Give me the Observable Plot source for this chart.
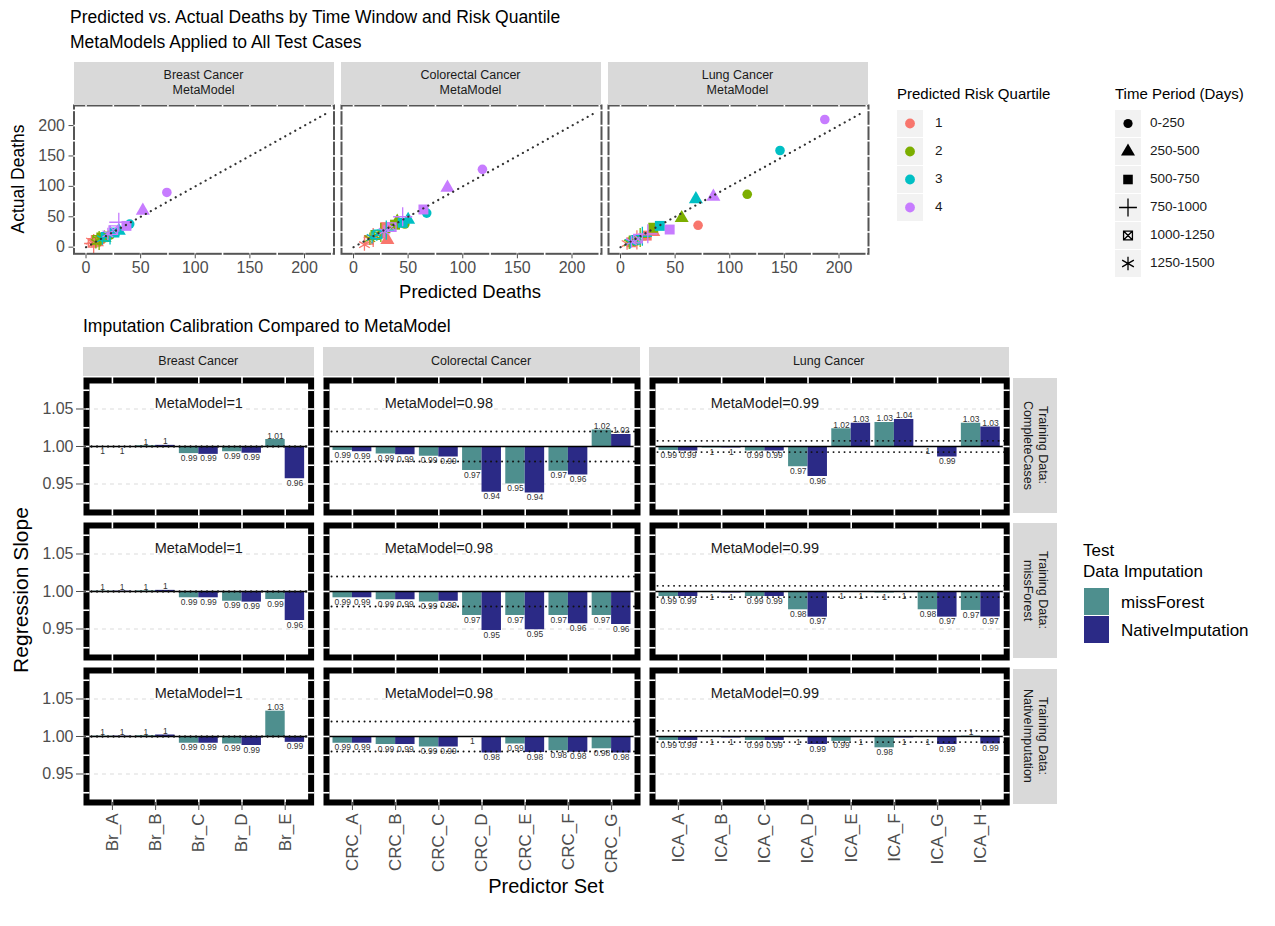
<!DOCTYPE html>
<html><head><meta charset="utf-8">
<script src="https://cdn.jsdelivr.net/npm/d3@7"></script>
<script src="https://cdn.jsdelivr.net/npm/@observablehq/plot@0.6"></script>
<style>
html,body{margin:0;padding:0;background:#fff;}
#root{position:relative;width:1275px;height:926px;overflow:hidden;font-family:"Liberation Sans",Arial,Helvetica,sans-serif;}
#root svg{position:absolute;overflow:visible;}
.t{position:absolute;white-space:nowrap;line-height:1;}
.strip{position:absolute;background:#d9d9d9;color:#1a1a1a;display:flex;align-items:center;justify-content:center;text-align:center;font-size:12.5px;line-height:15.5px;white-space:pre;}
.sw{position:absolute;}
</style></head><body><div id="root"></div>
<script>
// ================= DATA =================
const cancerNames = ["Breast Cancer", "Colorectal Cancer", "Lung Cancer"];
const riskQuartiles = ["1", "2", "3", "4"];
const quartileColors = ["#F8766D", "#7CAE00", "#00BFC4", "#C77CFF"];
const timePeriods = ["0-250", "250-500", "500-750", "750-1000", "1000-1250", "1250-1500"];
const deathTicks = [0, 50, 100, 150, 200];
const identityLine = [0, 220];

// rows = risk quartile 1..4, columns = time period
const breastPredicted = [[14, 10, 9, 7, 6, 5], [22, 17, 14, 12, 10, 9], [40, 30, 26, 22, 18, 15], [74, 52, 37, 30, 25, 20]];
const breastActual    = [[12, 8, 9, 6, 7, 10], [20, 15, 16, 11, 12, 8], [38, 27, 24, 20, 17, 14], [90, 60, 35, 41, 28, 22]];
const crcPredicted    = [[27, 31, 29, 18, 14, 10], [47, 40, 38, 25, 20, 15], [67, 50, 45, 30, 22, 17], [118, 86, 64, 45, 35, 28]];
const crcActual       = [[22, 12, 33, 16, 12, 4], [38, 42, 37, 24, 20, 14], [56, 45, 40, 28, 21, 16], [128, 98, 62, 50, 33, 26]];
const lungPredicted   = [[71, 30, 24, 15, 10, 6], [116, 56, 30, 18, 12, 8], [146, 69, 36, 20, 14, 9], [187, 85, 45, 25, 16, 10]];
const lungActual      = [[36, 25, 19, 12, 8, 6], [87, 48, 32, 16, 11, 7], [159, 79, 35, 18, 12, 8], [210, 83, 29, 22, 14, 9]];

const breastSets = ["Br_A", "Br_B", "Br_C", "Br_D", "Br_E"];
const crcSets = ["CRC_A", "CRC_B", "CRC_C", "CRC_D", "CRC_E", "CRC_F", "CRC_G"];
const lungSets = ["ICA_A", "ICA_B", "ICA_C", "ICA_D", "ICA_E", "ICA_F", "ICA_G", "ICA_H"];
const trainingLabels = ["Training Data:\nCompleteCases", "Training Data:\nmissForest", "Training Data:\nNativeImputation"];
const testImputation = ["missForest", "NativeImputation"];
const imputationColors = ["#4E8F8E", "#2B2A86"];
const metaModelSlope = [1.0, 0.98, 0.9925];
const slopeTicks = [0.95, 1.00, 1.05];

// regression slopes: training data x test imputation
const brCompleteMF = [0.9997, 1.001, 0.9905, 0.993, 1.0093];
const brCompleteNI = [0.9997, 1.0015, 0.9895, 0.991, 0.957];
const brMissForestMF = [1.0005, 1.0008, 0.9916, 0.987, 0.9893];
const brMissForestNI = [1.0005, 1.0015, 0.9916, 0.9858, 0.9613];
const brNativeMF = [1.0005, 1.001, 0.991, 0.990, 1.0338];
const brNativeNI = [1.0005, 1.002, 0.991, 0.988, 0.9922];

const crcCompleteMF = [0.9947, 0.990, 0.987, 0.968, 0.950, 0.967, 1.022];
const crcCompleteNI = [0.993, 0.989, 0.986, 0.939, 0.938, 0.962, 1.016];
const crcMissForestMF = [0.9916, 0.989, 0.986, 0.968, 0.968, 0.968, 0.968];
const crcMissForestNI = [0.9916, 0.989, 0.987, 0.948, 0.949, 0.957, 0.956];
const crcNativeMF = [0.991, 0.9893, 0.986, 0.9996, 0.990, 0.981, 0.9836];
const crcNativeNI = [0.991, 0.9893, 0.986, 0.978, 0.9787, 0.979, 0.978];

const lungCompleteMF = [0.9947, 0.998, 0.994, 0.973, 1.0236, 1.032, 0.999, 1.031];
const lungCompleteNI = [0.994, 0.998, 0.994, 0.960, 1.031, 1.036, 0.986, 1.026];
const lungMissForestMF = [0.9933, 0.9985, 0.9933, 0.9756, 0.9995, 0.998, 0.9756, 0.9747];
const lungMissForestNI = [0.9933, 0.998, 0.9933, 0.9658, 0.9995, 0.9995, 0.9658, 0.966];
const lungNativeMF = [0.9947, 0.9985, 0.9947, 0.9985, 0.9935, 0.9849, 0.9985, 1.0005];
const lungNativeNI = [0.9947, 0.998, 0.9947, 0.9893, 0.9985, 0.998, 0.9893, 0.990];

// ================= HELPERS =================
const FONT = '"Liberation Sans", Arial, Helvetica, sans-serif';
const root = document.getElementById("root");
function txt(s, x, y, o = {}) {
  const d = document.createElement("div");
  d.className = "t";
  d.textContent = s;
  const ax = o.anchor === "middle" ? -50 : o.anchor === "end" ? -100 : 0;
  d.style.left = x + "px"; d.style.top = y + "px";
  d.style.fontSize = (o.size || 14) + "px";
  d.style.color = o.color || "#000";
  d.style.transform = `translate(${ax}%,-50%)` + (o.rotate ? ` rotate(${o.rotate}deg)` : "");
  root.appendChild(d);
  return d;
}
function strip(s, x, y, w, h, vertical) {
  const d = document.createElement("div");
  d.className = "strip";
  d.textContent = s;
  Object.assign(d.style, {left: x + "px", top: y + "px", width: w + "px", height: h + "px"});
  if (vertical) d.style.writingMode = "vertical-rl";
  root.appendChild(d);
}
function place(svg, left, top) {
  svg.style.left = left + "px";
  svg.style.top = top + "px";
  root.appendChild(svg);
}
const fmt = v => String(+v.toFixed(2));
const squareCross = {
  draw(ctx, size) {
    const s = Math.sqrt(size) / 2;
    ctx.moveTo(-s, -s); ctx.lineTo(s, -s); ctx.lineTo(s, s); ctx.lineTo(-s, s); ctx.closePath();
    ctx.moveTo(-s, -s); ctx.lineTo(s, s); ctx.moveTo(s, -s); ctx.lineTo(-s, s);
  }
};
const periodSymbols = ["circle", "triangle", "square", "plus", squareCross, "asterisk"];
const periodD3 = [d3.symbolCircle, d3.symbolTriangle, d3.symbolSquare, d3.symbolPlus, squareCross, d3.symbolAsterisk];
const periodFilled = [true, true, true, false, false, false];
const periodR = [4.8, 5.2, 5.6, 6.2, 4.8, 5.8];
const legendR = [4.6, 5.2, 5.4, 5.8, 5.0, 6.4];

// ================= TOP FIGURE =================
txt("Predicted vs. Actual Deaths by Time Window and Risk Quantile", 70, 18, {size: 17.5});
txt("MetaModels Applied to All Test Cases", 70, 43, {size: 17.5});

const topX = [73.5, 340.5, 607.5], topW = 260, topY = 105, topH = 148.3;
const deathXDomain = [-11, 227], deathYDomain = [-10.9, 233];
const deathGrid = [0, 25, 50, 75, 100, 125, 150, 175, 200, 225];
const scatterSets = [[breastPredicted, breastActual], [crcPredicted, crcActual], [lungPredicted, lungActual]];

scatterSets.forEach(([pred, act], c) => {
  const data = [];
  riskQuartiles.forEach((q, qi) => timePeriods.forEach((p, pi) =>
    data.push({q, p, pi, x: pred[qi][pi], y: act[qi][pi]})));
  const mL = c === 0 ? 73.5 : 2, mR = 3, mT = 2, mB = 36;
  const marks = [];
  timePeriods.forEach((p, pi) => {
    const sub = data.filter(d => d.pi === pi);
    marks.push(periodFilled[pi]
      ? Plot.dot(sub, {x: "x", y: "y", fill: "q", r: periodR[pi], symbol: periodSymbols[pi]})
      : Plot.dot(sub, {x: "x", y: "y", stroke: "q", fill: "none", r: periodR[pi], symbol: periodSymbols[pi], strokeWidth: 1.3}));
  });
  marks.push(
    Plot.line(identityLine, {x: d => d, y: d => d, stroke: "#333", strokeWidth: 2.2, strokeDasharray: "0.1,5.6", strokeLinecap: "round"}),
    Plot.frame({stroke: "#555", strokeWidth: 2}),
    Plot.ruleX(deathGrid, {x: d => d, y1: () => deathYDomain[1] - 3, y2: () => deathYDomain[1] + 3, stroke: "white", strokeWidth: 1.6}),
    Plot.ruleX(deathGrid, {x: d => d, y1: () => deathYDomain[0] - 3, y2: () => deathYDomain[0] + 3, stroke: "white", strokeWidth: 1.6}),
    Plot.ruleY(deathGrid, {y: d => d, x1: () => deathXDomain[0] - 2, x2: () => deathXDomain[0] + 2, stroke: "white", strokeWidth: 1.6}),
    Plot.ruleY(deathGrid, {y: d => d, x1: () => deathXDomain[1] - 2, x2: () => deathXDomain[1] + 2, stroke: "white", strokeWidth: 1.6}),
    Plot.axisX({ticks: deathTicks, tickSize: 5, tickPadding: 3, fontSize: 16, color: "#4d4d4d", label: null})
  );
  if (c === 0) marks.push(Plot.axisY({ticks: deathTicks, tickSize: 5, tickPadding: 4, fontSize: 16, color: "#4d4d4d", label: null}));
  const svg = Plot.plot({
    width: mL + topW + mR, height: mT + topH + mB,
    marginLeft: mL, marginRight: mR, marginTop: mT, marginBottom: mB,
    x: {domain: deathXDomain, label: null},
    y: c === 0 ? {domain: deathYDomain, label: null} : {domain: deathYDomain, axis: null},
    color: {domain: riskQuartiles, range: quartileColors},
    style: {fontFamily: FONT, background: "transparent", overflow: "visible"},
    marks
  });
  place(svg, topX[c] - mL, topY - mT);
  strip(cancerNames[c] + "\nMetaModel", topX[c], 62, topW, 42.5);
});
txt("Actual Deaths", 19, 179, {size: 17.5, anchor: "middle", rotate: -90});
txt("Predicted Deaths", 470, 292, {size: 18.5, anchor: "middle"});

// top legends
txt("Predicted Risk Quartile", 897, 93, {size: 15});
txt("Time Period (Days)", 1115, 93, {size: 15});
function keySvg(x, y, w, h, draw) {
  const s = d3.create("svg").attr("width", w).attr("height", h).style("left", x + "px").style("top", y + "px");
  s.append("rect").attr("width", w).attr("height", h).attr("fill", "#f2f2f2");
  draw(s.append("g").attr("transform", `translate(${w / 2},${h / 2})`));
  root.appendChild(s.node());
}
riskQuartiles.forEach((q, i) => {
  const cy = 123 + i * 28;
  keySvg(897, cy - 13.5, 26, 27, g => g.append("circle").attr("r", 4.9).attr("fill", quartileColors[i]));
  txt(q, 935, cy, {size: 13.5, color: "#1a1a1a"});
});
timePeriods.forEach((p, i) => {
  const cy = 123 + i * 28;
  keySvg(1115, cy - 13.5, 26, 27, g => {
    const path = d3.symbol(periodD3[i], Math.PI * legendR[i] * legendR[i])();
    g.append("path").attr("d", path)
      .attr("fill", periodFilled[i] ? "#000" : "none")
      .attr("stroke", periodFilled[i] ? "none" : "#000").attr("stroke-width", 1.3);
  });
  txt(p, 1150, cy, {size: 13.5, color: "#1a1a1a"});
});

// ================= BOTTOM FIGURE =================
txt("Imputation Calibration Compared to MetaModel", 83, 327, {size: 17.5});

const unitPx = 43.2;
const colLeft = [86, 325.6, 651.6];
const rowTop = [379.5, 524.5, 670];
const panelH = 132;
const slopeDomain = [0.912, 1.088];
const slopeGrid = [0.925, 0.95, 0.975, 1.0, 1.025, 1.05, 1.075];
const dodgeW = 0.45;
const annotIndex = 3, annotSlope = 1.058;
const sets = [breastSets, crcSets, lungSets];
const slopes = [
  [[brCompleteMF, brCompleteNI], [brMissForestMF, brMissForestNI], [brNativeMF, brNativeNI]],
  [[crcCompleteMF, crcCompleteNI], [crcMissForestMF, crcMissForestNI], [crcNativeMF, crcNativeNI]],
  [[lungCompleteMF, lungCompleteNI], [lungMissForestMF, lungMissForestNI], [lungNativeMF, lungNativeNI]]
];

sets.forEach((cats, c) => {
  const n = cats.length;
  const w = (n + 0.2) * unitPx;
  const xDom = [0.4, n + 0.6];
  const meta = metaModelSlope[c];
  strip(cancerNames[c], colLeft[c] - 3, 347, w + 6, 29);
  trainingLabels.forEach((tl, r) => {
    const [mf, ni] = slopes[c][r];
    const bars = [];
    cats.forEach((cat, i) => [mf, ni].forEach((arr, g) =>
      bars.push({i: i + 1, g, imp: testImputation[g], v: arr[i]})));
    const mL = c === 0 ? 86 : 4, mR = 4, mT = 4, mB = r === 2 ? 85 : 4;
    const cx = d => d.i - dodgeW / 2 + d.g * dodgeW;
    const marks = [
      Plot.ruleY(slopeTicks.filter(t => t !== 1), {stroke: "#dcdcdc", strokeDasharray: "4,4", strokeWidth: 1}),
      Plot.rect(bars, {x1: d => d.i - dodgeW + d.g * dodgeW, x2: d => d.i + d.g * dodgeW, y1: () => 1, y2: "v", fill: "imp"}),
      Plot.ruleY([1], {stroke: "#000", strokeWidth: 1.3}),
      Plot.ruleY([meta, 2 - meta], {stroke: "#111", strokeWidth: 1.9, strokeDasharray: "0.1,5.4", strokeLinecap: "round"}),
      Plot.text(bars.filter(d => d.v >= 1), {x: cx, y: "v", text: d => fmt(d.v), lineAnchor: "bottom", dy: -1, fontSize: 8.5, fill: "#333"}),
      Plot.text(bars.filter(d => d.v < 1), {x: cx, y: "v", text: d => fmt(d.v), lineAnchor: "top", dy: 1, fontSize: 8.5, fill: "#333"}),
      Plot.text([meta], {x: () => annotIndex, y: () => annotSlope, text: d => "MetaModel=" + fmt(d), fontSize: 14.5, fill: "#1a1a1a"}),
      Plot.frame({stroke: "#000", strokeWidth: 6}),
      Plot.ruleX(cats.map((_, i) => i + 1), {x: d => d, y1: () => slopeDomain[1] - 0.0046, y2: () => slopeDomain[1] + 0.0046, stroke: "white", strokeWidth: 1.6}),
      Plot.ruleX(cats.map((_, i) => i + 1), {x: d => d, y1: () => slopeDomain[0] - 0.0046, y2: () => slopeDomain[0] + 0.0046, stroke: "white", strokeWidth: 1.6}),
      Plot.ruleY(slopeGrid, {y: d => d, x1: () => xDom[0] - 0.08, x2: () => xDom[0] + 0.08, stroke: "white", strokeWidth: 1.6}),
      Plot.ruleY(slopeGrid, {y: d => d, x1: () => xDom[1] - 0.08, x2: () => xDom[1] + 0.08, stroke: "white", strokeWidth: 1.6})
    ];
    if (c === 0) marks.push(Plot.axisY({ticks: slopeTicks, tickFormat: d3.format(".2f"), tickSize: 10, tickPadding: 3, fontSize: 16, color: "#4d4d4d", label: null}));
    if (r === 2) marks.push(Plot.axisX({ticks: cats.map((_, i) => i + 1), tickFormat: d => cats[d - 1], tickRotate: -90, tickSize: 8, tickPadding: 3, fontSize: 17, color: "#4d4d4d", label: null}));
    const svg = Plot.plot({
      width: mL + w + mR, height: mT + panelH + mB,
      marginLeft: mL, marginRight: mR, marginTop: mT, marginBottom: mB,
      x: r === 2 ? {domain: xDom, label: null} : {domain: xDom, axis: null},
      y: c === 0 ? {domain: slopeDomain, label: null} : {domain: slopeDomain, axis: null},
      color: {domain: testImputation, range: imputationColors},
      style: {fontFamily: FONT, background: "transparent", overflow: "visible"},
      marks
    });
    place(svg, colLeft[c] - mL, rowTop[r] - mT);
    if (c === 2) strip(tl, colLeft[c] + w + 7, rowTop[r] - 1.5, 44, panelH + 3, true);
  });
});

txt("Regression Slope", 20, 590, {size: 21, anchor: "middle", rotate: -90});
txt("Predictor Set", 546, 886, {size: 20, anchor: "middle"});

// bottom legend
txt("Test", 1083, 550, {size: 17});
txt("Data Imputation", 1083, 571, {size: 17});
testImputation.forEach((t, i) => {
  const d = document.createElement("div");
  d.className = "sw";
  Object.assign(d.style, {left: "1084px", top: (588 + i * 28) + "px", width: "25px", height: "27px", background: imputationColors[i]});
  root.appendChild(d);
  txt(t, 1121, 602 + i * 28, {size: 17});
});
</script></body></html>
